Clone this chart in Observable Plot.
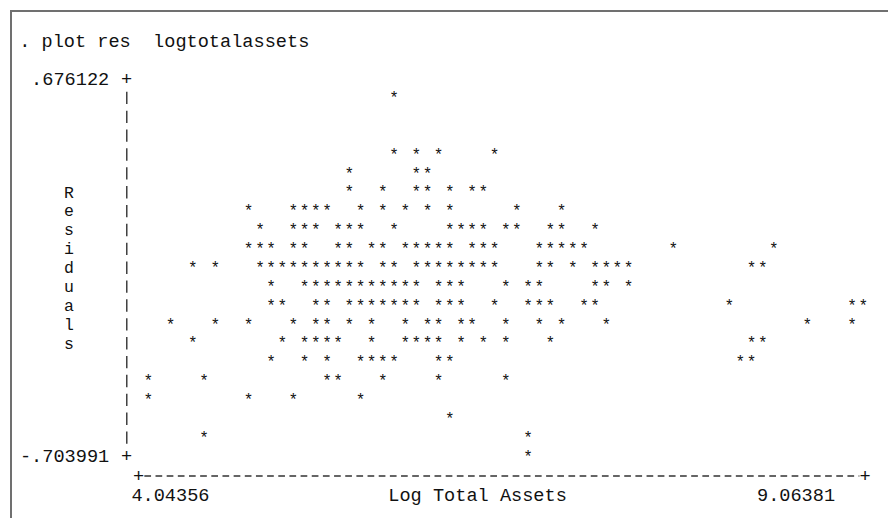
<!DOCTYPE html>
<html>
<head>
<meta charset="utf-8">
<script src="https://cdn.jsdelivr.net/npm/d3@7"></script>
<script src="https://cdn.jsdelivr.net/npm/@observablehq/plot@0.6"></script>
<style>
  html, body { margin: 0; padding: 0; background: #fff; width: 888px; height: 518px; overflow: hidden; }
  #frame { position: absolute; left: 10px; top: 10px; right: -4px; bottom: -4px;
           border-left: 2px solid #707070; border-top: 2px solid #707070; }
  #title { position: absolute; left: 19.2px; top: 33px; font-family: "Liberation Mono", monospace;
           font-size: 18.6px; line-height: 19px; white-space: pre; color: #111; }
  #chart { position: absolute; left: 0; top: 60px; }
</style>
</head>
<body>
<div id="frame"></div>
<div id="title">. plot res  logtotalassets</div>
<div id="chart"></div>
<script>
// Residual level of each printed row (top row to bottom row)
const residualRows = [0.607, 0.538, 0.469, 0.400, 0.331, 0.262, 0.193, 0.124, 0.055, -0.014,
                      -0.083, -0.152, -0.221, -0.290, -0.359, -0.428, -0.497, -0.566, -0.635, -0.704];

// Log total assets of the points on each row (same order as residualRows)
const assetsByRow = [
  [5.769],
  [],
  [],
  [5.769, 5.926, 6.083, 6.475],
  [5.455, 5.926, 6.005],
  [5.455, 5.691, 5.926, 6.005, 6.161, 6.318, 6.397],
  [4.749, 5.063, 5.142, 5.220, 5.299, 5.534, 5.691, 5.848, 6.005, 6.161, 6.632, 6.946],
  [4.828, 5.063, 5.142, 5.220, 5.377, 5.455, 5.534, 5.769, 6.161, 6.240, 6.318, 6.397, 6.554, 6.632, 6.867, 6.946, 7.181],
  [4.749, 4.828, 4.906, 5.063, 5.142, 5.377, 5.455, 5.612, 5.691, 5.848, 5.926, 6.005, 6.083, 6.161, 6.318, 6.397, 6.475, 6.789, 6.867, 6.946, 7.024, 7.103, 7.730, 8.436],
  [4.357, 4.514, 4.828, 4.906, 4.985, 5.063, 5.142, 5.220, 5.299, 5.377, 5.455, 5.534, 5.691, 5.769, 5.926, 6.005, 6.083, 6.161, 6.240, 6.318, 6.397, 6.475, 6.789, 6.867, 7.024, 7.181, 7.260, 7.338, 7.417, 8.279, 8.358],
  [4.906, 5.142, 5.220, 5.299, 5.377, 5.455, 5.534, 5.612, 5.691, 5.769, 5.848, 5.926, 6.083, 6.161, 6.240, 6.554, 6.711, 6.789, 7.181, 7.260, 7.417],
  [4.906, 4.985, 5.220, 5.299, 5.455, 5.534, 5.612, 5.691, 5.769, 5.848, 5.926, 6.083, 6.161, 6.240, 6.475, 6.711, 6.789, 6.867, 7.103, 7.181, 8.123, 8.985, 9.064],
  [4.200, 4.514, 4.749, 5.063, 5.220, 5.299, 5.455, 5.612, 5.848, 6.005, 6.083, 6.240, 6.318, 6.554, 6.789, 6.946, 7.260, 8.672, 8.985],
  [4.357, 4.985, 5.142, 5.220, 5.299, 5.377, 5.612, 5.848, 5.926, 6.005, 6.083, 6.240, 6.397, 6.554, 6.867, 8.279, 8.358],
  [4.906, 5.142, 5.299, 5.534, 5.612, 5.691, 5.769, 6.083, 6.161, 8.201, 8.279],
  [4.044, 4.436, 5.299, 5.377, 5.691, 6.083, 6.554],
  [4.044, 4.749, 5.063, 5.534],
  [6.161],
  [4.436, 6.711],
  [6.711]
];

// Axis extremes and their labels
const xTickValues = [4.04356, 9.06381];
const xTickLabels = ["4.04356", "9.06381"];
const yTickValues = [0.676122, -0.703991];
const yTickLabels = [".676122", "-.703991"];
const xTitle = "Log Total Assets";
const yTitle = "Residuals";

const points = assetsByRow.flatMap((xs, i) => xs.map(x => ({assets: x, residual: residualRows[i]})));
// the y title is printed one letter per text row, on rows 6..14
const yTitleLetters = yTitle.split("").map((ch, i) => ({ch, level: residualRows[5 + i]}));

const mono = "Liberation Mono";
const fs = 18.6;        // character cell: 11.16px wide
const cell = 11.16;
const row = 18.875;     // one text row
const bar = 0.0225;     // half length of a '|' segment, in residual units

const chart = Plot.plot({
  width: 888,
  height: 458,
  marginLeft: 147.7,
  marginRight: 25.3,
  marginTop: 18.5,
  marginBottom: 62,
  x: {domain: [xTickValues[0], xTickValues[1]], axis: null},
  y: {domain: [yTickValues[1], yTickValues[0]], axis: null},
  style: {fontFamily: mono, fontSize: fs + "px", color: "#111", background: "transparent", overflow: "visible"},
  marks: [
    // vertical axis: one '|' segment per text row, '+' at both ends
    Plot.ruleX(residualRows.slice(0, residualRows.length - 1), {
      x: () => xTickValues[0], y1: d => d + bar, y2: d => d - bar, dx: -21.4, dy: 0.5,
      stroke: "#222", strokeWidth: 1.3
    }),
    Plot.text(yTickValues, {
      y: d => d, frameAnchor: "left", textAnchor: "middle", text: () => "+", dx: -21.5,
      fontFamily: mono, fontSize: fs, fill: "#111"
    }),
    Plot.text(yTickValues, {
      y: d => d, frameAnchor: "left", text: (d, i) => yTickLabels[i], dx: -39, textAnchor: "end",
      fontFamily: mono, fontSize: fs, fill: "#111"
    }),
    // vertical stacked title
    Plot.text(yTitleLetters, {
      y: "level", text: "ch", frameAnchor: "left", textAnchor: "middle", dx: -79.2,
      fontFamily: mono, fontSize: 16.5, fill: "#111"
    }),
    // horizontal axis: '+' ------ '+'
    Plot.ruleY([yTickValues[1]], {
      x1: xTickValues[0], x2: xTickValues[1], dy: row + 0.6, dx: -3.35,
      stroke: "#333", strokeWidth: 1.3, strokeDasharray: "6.7," + (cell - 6.7)
    }),
    Plot.text([xTickValues[0]], {
      x: d => d, y: yTickValues[1], dy: row + 0.6, dx: -9.7, textAnchor: "middle", lineAnchor: "middle",
      text: () => "+", fontFamily: mono, fontSize: fs, fill: "#111"
    }),
    Plot.text([xTickValues[1]], {
      x: d => d, y: yTickValues[1], dy: row + 0.6, dx: 2, textAnchor: "middle", lineAnchor: "middle",
      text: () => "+", fontFamily: mono, fontSize: fs, fill: "#111"
    }),
    // axis labels on the next text row
    Plot.text([xTickValues[0]], {
      x: d => d, frameAnchor: "bottom", lineAnchor: "middle", dy: 2 * row + 1, dx: -16.8, textAnchor: "start",
      text: () => xTickLabels[0], fontFamily: mono, fontSize: fs, fill: "#111"
    }),
    Plot.text([xTickValues[1]], {
      x: d => d, frameAnchor: "bottom", lineAnchor: "middle", dy: 2 * row + 1, dx: -28.1, textAnchor: "end",
      text: () => xTickLabels[1], fontFamily: mono, fontSize: fs, fill: "#111"
    }),
    Plot.text([xTitle], {
      frameAnchor: "bottom-left", lineAnchor: "middle", dy: 2 * row + 1, dx: 240.1, textAnchor: "start",
      text: d => d, fontFamily: mono, fontSize: fs, fill: "#111"
    }),
    // the points
    Plot.text(points, {
      x: "assets", y: "residual", text: () => "*",
      fontFamily: mono, fontSize: 16, fill: "#111"
    })
  ]
});
document.getElementById("chart").appendChild(chart);
</script>
</body>
</html>
